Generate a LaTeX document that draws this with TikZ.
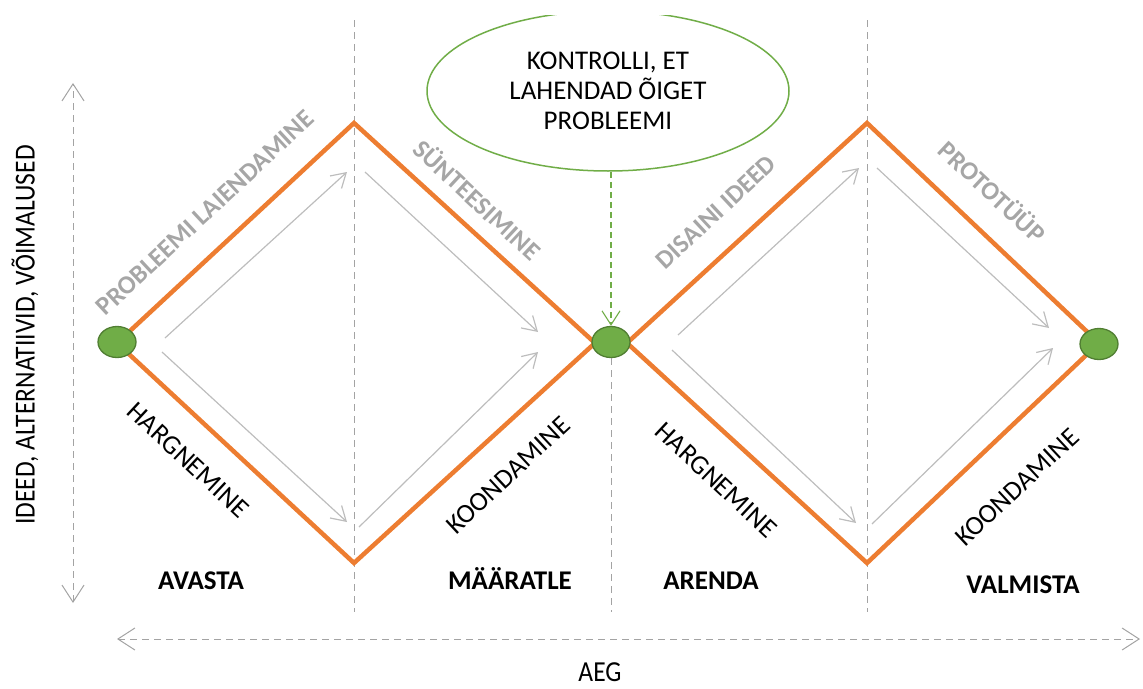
\documentclass[tikz,border=0pt]{standalone}
\usepackage{fontspec}
\setmainfont{Carlito}
\newfontfamily\axisfont[FakeStretch = 0.88]{Carlito}
\usepackage{tikz}
\usetikzlibrary{shapes.geometric, positioning, arrows.meta}

\definecolor{edgeorange}{HTML}{ED7D31}
\definecolor{dotgreen}{HTML}{70AD47}
\definecolor{dotborder}{HTML}{507E32}
\definecolor{phasegray}{HTML}{A6A6A6}
\definecolor{flowgray}{HTML}{BDBDBD}
\definecolor{guidegray}{HTML}{A3A3A3}

\tikzset{
    stagedot/.style = {ellipse, draw = dotborder, fill = dotgreen, line width = 1.3pt,
        minimum width = 38pt, minimum height = 31pt, inner sep = 0pt},
    edgeline/.style = {edgeorange, line width = 4.5pt, line join = miter},
    flow/.style = {flowgray, line width = 1.2pt, -{Straight Barb[length = 14pt, width = 17pt]}},
    guide/.style = {guidegray, line width = 1pt, dash pattern = on 7pt off 5pt},
    axisline/.style = {guide, {Straight Barb[length = 17pt, width = 22pt]}-{Straight Barb[length = 17pt, width = 22pt]}},
    phase/.style = {font = \fontsize{26}{26}\selectfont\bfseries, text = phasegray, inner sep = 0pt},
    action/.style = {font = \fontsize{27}{27}\selectfont, inner sep = 0pt},
    stage/.style = {font = \fontsize{27}{27}\selectfont\bfseries, inner sep = 0pt, anchor = base},
    axislabel/.style = {font = \axisfont\fontsize{29}{29}\selectfont, inner sep = 0pt}
}

\begin{document}
\begin{tikzpicture}[x = 1pt, y = -1pt]
    \useasboundingbox (0, 0) rectangle (1143, 688);

    % draw vertical guide lines
    \foreach \gx in {354, 867}
        \draw[guide] (\gx, 20) -- (\gx, 612);

    % corners of both diamonds
    \coordinate (d1left) at (117, 343);
    \coordinate (d1top) at (354, 123);
    \coordinate (d1right) at (595, 343);
    \coordinate (d1bottom) at (354, 563);

    \coordinate (d2left) at (627, 343);
    \coordinate (d2top) at (867, 123);
    \coordinate (d2right) at (1099, 343);
    \coordinate (d2bottom) at (867, 563);

    % draw axes
    \coordinate (ideatop) at (73, 83);
    \coordinate (ideabottom) at (73, 603);
    \draw[axisline] (ideabottom) -- (ideatop);
    \node[axislabel, rotate = 90] (ideas) at (25, 335) {IDEED, ALTERNATIIVID, VÕIMALUSED};

    \coordinate (timeleft) at (117, 639);
    \coordinate (timeright) at (1140, 639);
    \draw[axisline] (timeleft) -- (timeright);
    \node[axislabel] (time) at (600, 672) {AEG};

    % draw question bubble
    \begin{scope}
        \clip (0, 15) rectangle (1143, 688);
        \node[ellipse, draw = dotgreen, line width = 1.5pt, fill = white, minimum width = 362pt,
            minimum height = 160pt, inner sep = 0pt, align = center,
            font = \fontsize{27}{30}\selectfont] (check) at (608, 91)
            {KONTROLLI, ET\\LAHENDAD ÕIGET\\PROBLEEMI};
    \end{scope}

    % draw diamonds
    \draw[edgeline] (d1left) -- (d1top) -- (d1right) -- (d1bottom) -- cycle;
    \draw[edgeline] (d2left) -- (d2top) -- (d2right) -- (d2bottom) -- cycle;

    % draw green dots
    \node[stagedot] (startdot) at (117, 342) {};
    \node[stagedot] (middot) at (611, 342) {};
    \node[stagedot] (enddot) at (1099, 344) {};

    \coordinate (midfoot) at (611, 612);
    \draw[guide] (middot.south) -- (midfoot);
    \draw[dotgreen, line width = 1.1pt, dash pattern = on 6pt off 4pt, -{Straight Barb[length = 14pt, width = 18pt]}] (check.south -| middot) -- (middot.north);

    % draw flow arrows in first diamond
    \draw[flow] (165, 338) -- (347, 172);
    \draw[flow] (162, 352) -- (347, 522);
    \draw[flow] (365, 172) -- (538, 332);
    \draw[flow] (359, 527) -- (538, 352);

    % draw flow arrows in second diamond
    \draw[flow] (678, 335) -- (859, 168);
    \draw[flow] (672, 350) -- (856, 523);
    \draw[flow] (877, 168) -- (1049, 328);
    \draw[flow] (872, 524) -- (1053, 348);

    % draw phase labels
    \node[phase, rotate = 43] (widen) at (205, 213) {PROBLEEMI LAIENDAMINE};
    \node[phase, rotate = -43] (synth) at (478, 199) {SÜNTEESIMINE};
    \node[phase, rotate = 43] (design) at (716, 212) {DISAINI IDEED};
    \node[phase, rotate = -43] (proto) at (993, 191) {PROTOTÜÜP};

    % draw divergence and convergence labels
    \node[action, rotate = -43] (diverge1) at (188, 460) {HARGNEMINE};
    \node[action, rotate = 43] (converge1) at (508, 475) {KOONDAMINE};
    \node[action, rotate = -43] (diverge2) at (716, 480) {HARGNEMINE};
    \node[action, rotate = 43] (converge2) at (1017, 487) {KOONDAMINE};

    % draw stage names
    \node[stage] (discover) at (201, 589) {AVASTA};
    \node[stage] (define) at (510, 589) {MÄÄRATLE};
    \node[stage] (develop) at (711, 589) {ARENDA};
    \node[stage] (deliver) at (1023, 593) {VALMISTA};
\end{tikzpicture}
\end{document}
